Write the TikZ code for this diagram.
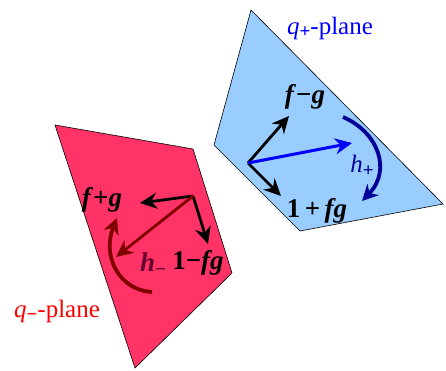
\documentclass[tikz,border=0pt]{standalone}
\usepackage{fontspec}
\setmainfont{Liberation Serif}
\usetikzlibrary{arrows.meta}
\definecolor{cplus}{HTML}{99CCFF}
\definecolor{cminus}{HTML}{FF3366}
\definecolor{cdred}{HTML}{800000}
\definecolor{cnavy}{HTML}{000099}
\definecolor{chm}{HTML}{660033}
\newcommand{\bi}[1]{\textbf{\textit{#1}}}
\newcommand{\bsub}[1]{\raisebox{-0.3ex}{\fontsize{19}{21}\selectfont\textbf{#1}}}

\begin{document}
\begin{tikzpicture}[x=1pt, y=-1pt,
  font=\rmfamily\fontsize{25}{29}\selectfont,
  plane/.style={draw=black, line width=0.6pt},
  vec/.style={line width=2.8pt, -{Stealth[length=17pt, width=16pt]}},
  turn/.style={line width=3.8pt, -{Stealth[length=16pt, width=16pt]}},
  lbl/.style={inner sep=0pt, anchor=center},
  big/.style={font=\rmfamily\fontsize{27}{31}\selectfont},
  ]
\useasboundingbox (0,0) rectangle (446,370);

% planes
\filldraw[plane, fill=cplus] (251,10) -- (443,204) -- (300,231) -- (214,145) -- cycle;
\filldraw[plane, fill=cminus] (55,125) -- (193,149) -- (232,273) -- (135,368) -- cycle;

% q+ plane
\coordinate (op) at (248,163);
\coordinate (fmg) at (289,116);
\coordinate (opg) at (281,196);
\coordinate (hp) at (352,143);
\draw[vec] (op) -- (fmg);
\draw[vec] (op) -- (opg);
\draw[vec, draw=blue, line width=3pt] (op) -- (hp);
\coordinate (rp0) at (343,117);
\coordinate (rp1) at (362,201);
\draw[turn, draw=cnavy] (rp0) .. controls (378,132) and (392,170) .. (rp1);

\node[lbl, big] (lfmg) at (305,97) {\bi{f}\textbf{−}\bi{g}};
\node[lbl, big] (lopg) at (317,211) {\textbf{1}\,\textbf{+}\,\bi{fg}};
\node[lbl, text=cnavy] (lhp) at (362,166) {\textit{h}\bsub{+}};
\node[lbl, text=blue] (lqp) at (330,28) {\textit{q}\bsub{+}-plane};

% q- plane
\coordinate (om) at (193,196);
\coordinate (fpg) at (140,203);
\coordinate (omg) at (208,244);
\coordinate (hm) at (116,257);
\draw[vec] (om) -- (fpg);
\draw[vec] (om) -- (omg);
\draw[vec, draw=cdred] (om) -- (hm);
\coordinate (rm0) at (152,292);
\coordinate (rm1) at (117,218);
\draw[turn, draw=cdred] (rm0) .. controls (118,290) and (102,255) .. (rm1);

\node[lbl, big] (lfpg) at (102,200) {\bi{f}\textbf{+}\bi{g}};
\node[lbl, big, text=chm] (lhm) at (153,264) {\bi{h}\bsub{−}};
\node[lbl, big] (lomg) at (198,263) {\textbf{1}\textbf{−}\bi{fg}};
\node[lbl, text=red] (lqm) at (57,311) {\textit{q}\bsub{−}-plane};
\end{tikzpicture}
\end{document}
